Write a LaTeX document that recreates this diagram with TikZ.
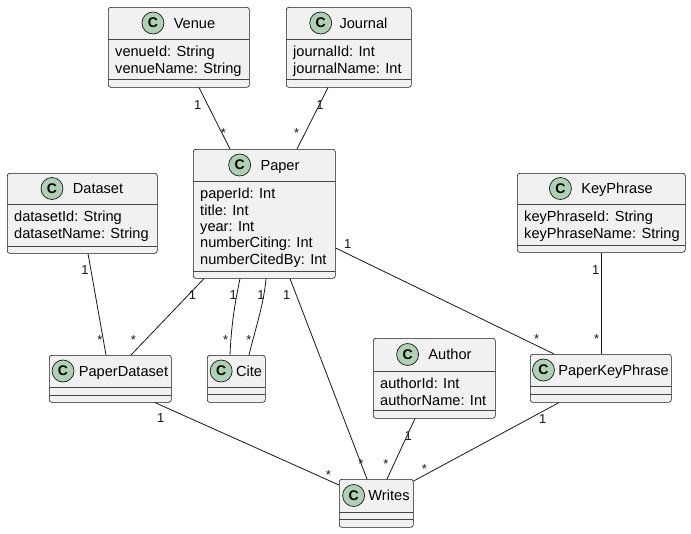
\documentclass[tikz,border=0pt]{standalone}
\usepackage{fontspec}
\setmainfont{Liberation Sans}
\definecolor{boxfill}{HTML}{F1F1F1}
\definecolor{linec}{HTML}{181818}
\definecolor{icongreen}{HTML}{ADD1B2}
\tikzset{
  cls/.style={draw=linec, fill=boxfill, line width=0.6pt, rounded corners=2.5pt, inner sep=0pt, anchor=north west},
  sepl/.style={draw=linec!80, line width=0.5pt},
  ctitle/.style={font=\fontsize{14.6}{16}\selectfont, inner sep=0pt, anchor=base},
  attr/.style={font=\fontsize{14.6}{16}\selectfont, inner sep=0pt, anchor=base west},
  cicon/.style={circle, draw=linec, fill=icongreen, line width=0.7pt, minimum size=22pt, inner sep=0pt, font=\fontsize{14}{14}\selectfont\bfseries},
  assoc/.style={draw=linec, line width=0.8pt},
  mult/.style={font=\fontsize{13}{13}\selectfont, inner sep=0pt, text=linec},
  mstar/.style={mult, yshift=-2.8pt},
}
% #1 name #2 left #3 top #4 right #5 bottom #6 sep1 #7 sep2 #8 title #9 gap
\newcommand{\umlclass}[9]{%
  \node[cls, minimum width={(#4)-(#2)}, minimum height={(#5)-(#3)}] (#1) at (#2,#3) {};
  \draw[sepl] (#2,#6) -- (#4,#6);
  \draw[sepl] (#2,#7) -- (#4,#7);
  \node[ctitle] (#1-t) at ({(#2+#4)/2},{(#3+#6)/2+5.3}) {\hspace*{\dimexpr22pt+#9pt\relax}#8};
  \node[cicon, anchor=west] (#1-i) at ([yshift=5.3pt]#1-t.base west) {C};
}
% #1 name #2 left #3 sep1 #4 list
\newcommand{\umlattrs}[4]{%
  \foreach \a [count=\i] in {#4} {
    \node[attr] (#1-a\i) at ({#2+7},{#3+17.8+(\i-1)*16.3}) {\a};
  }
}
\begin{document}
\begin{tikzpicture}[x=1pt, y=-1pt]
\fill[white] (0,0) rectangle (691,533);
\useasboundingbox (0,0) rectangle (691,533);

\umlclass{venue}{108}{7}{249}{87}{39}{79}{Venue}{10}
\umlattrs{venue}{108}{39}{venueId: String, venueName: String}

\umlclass{journal}{286}{7}{411}{87}{39}{79}{Journal}{8}
\umlattrs{journal}{286}{39}{journalId: Int, journalName: Int}

\umlclass{paper}{193}{149}{335}{278}{181}{271}{Paper}{10}
\umlattrs{paper}{193}{181}{paperId: Int, title: Int, year: Int, numberCiting: Int, numberCitedBy: Int}

\umlclass{dataset}{7}{173}{157}{253}{204}{246}{Dataset}{10}
\umlattrs{dataset}{7}{204}{datasetId: String, datasetName: String}

\umlclass{keyphrase}{517}{173}{685}{252}{204}{245}{KeyPhrase}{10}
\umlattrs{keyphrase}{517}{204}{keyPhraseId: String, keyPhraseName: String}

\umlclass{pd}{49}{355}{171}{402}{387}{395}{PaperDataset}{5}
\umlclass{cite}{207}{355}{265}{402}{387}{394}{Cite}{4}

\umlclass{author}{373}{338}{495}{418}{371}{410}{Author}{10}
\umlattrs{author}{373}{371}{authorId: Int, authorName: Int}

\umlclass{pkp}{530}{354}{671}{402}{386}{394}{PaperKeyPhrase}{4}
\umlclass{writes}{339}{479}{413}{527}{512}{519}{Writes}{4}

% connectors
\draw[assoc] ([xshift=91pt]venue.south west) -- ([xshift=37pt]paper.north west);
\node[mult] (m1a) at (197.7,104.7) {1};
\node[mstar] (m1b) at (223.3,130) {*};

\draw[assoc] ([xshift=42pt]journal.south west) -- ([xshift=104pt]paper.north west);
\node[mult] (m2a) at (320,105) {1};
\node[mstar] (m2b) at (296.7,130) {*};

\draw[assoc] ([xshift=81pt]dataset.south west) -- ([xshift=57pt]pd.north west);
\node[mult] (m3a) at (85,270) {1};
\node[mstar] (m3b) at (100,337.3) {*};

\draw[assoc] ([xshift=11pt]paper.south west) -- ([xshift=82pt]pd.north west);
\node[mult] (m4a) at (192.5,295.5) {1};
\node[mstar] (m4b) at (133.3,337.3) {*};

\draw[assoc] ([xshift=47pt]paper.south west) .. controls +(-6,28) and +(1,-25) .. ([xshift=23pt]cite.north west);
\node[mult] (m5a) at (233.3,295) {1};
\node[mstar] (m5b) at (225.7,337.3) {*};

\draw[assoc] ([xshift=73pt]paper.south west) .. controls +(-2,25) and +(6,-25) .. ([xshift=42pt]cite.north west);
\node[mult] (m6a) at (261,295) {1};
\node[mstar] (m6b) at (249,337.3) {*};

\draw[assoc] ([xshift=97pt]paper.south west) -- ([xshift=28pt]writes.north west);
\node[mult] (m7a) at (286.7,295) {1};
\node[mstar] (m7b) at (361,461) {*};

\draw[assoc] ([yshift=-99pt]paper.north east) -- ([xshift=24pt]pkp.north west);
\node[mult] (m8a) at (347.7,244) {1};
\node[mstar] (m8b) at (536.7,336.7) {*};

\draw[assoc] ([xshift=84.5pt]keyphrase.south west) -- ([xshift=71.5pt]pkp.north west);
\node[mult] (m9a) at (595.7,270) {1};
\node[mstar] (m9b) at (596.7,336.7) {*};

\draw[assoc] ([xshift=106pt]pd.south west) -- ([yshift=-6pt]writes.north west);
\node[mult] (m10a) at (160.7,418.3) {1};
\node[mstar] (m10b) at (328.3,472) {*};

\draw[assoc] ([xshift=42pt]author.south west) -- ([xshift=48pt]writes.north west);
\node[mult] (m11a) at (408.3,436) {1};
\node[mstar] (m11b) at (386,461) {*};

\draw[assoc] ([xshift=29pt]pkp.south west) -- ([yshift=-2pt]writes.north east);
\node[mult] (m12a) at (542.7,419.3) {1};
\node[mstar] (m12b) at (424.3,466.7) {*};
\end{tikzpicture}
\end{document}
